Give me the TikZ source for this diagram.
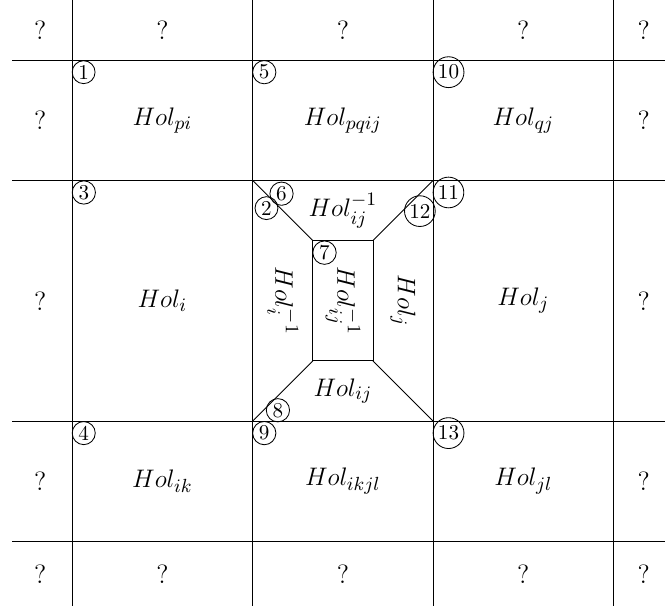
\documentclass[tikz,border=0pt]{standalone}
\usepackage{amsmath,amssymb}
\usepackage{tikz}
\usetikzlibrary{positioning}

\begin{document}
\begin{tikzpicture}[
    lbl/.style={font=\fontsize{12.5}{15}\selectfont},
    vlbl/.style={lbl, rotate=-90},
    num/.style={circle, draw, inner sep=0.9pt, outer sep=0pt, font=\normalsize},
    numw/.style={num, anchor=west}
]
\useasboundingbox (-1.2,1.0) rectangle (9.855,-9.14);

% grid lines
\draw (0,1) -- (0,-9.08);
\draw (3,1) -- (3,-9.08);
\draw (6,1) -- (6,-9.08);
\draw (9,1) -- (9,-9.08);
\draw (-1,0) -- (9.86,0);
\draw (-1,-2) -- (9.86,-2);
\draw (-1,-6) -- (9.86,-6);
\draw (-1,-8) -- (9.86,-8);

% centre cell with inner box
\coordinate (mnw) at (3,-2);
\coordinate (mne) at (6,-2);
\coordinate (msw) at (3,-6);
\coordinate (mse) at (6,-6);
\coordinate (inw) at (4,-3);
\coordinate (ine) at (5,-3);
\coordinate (isw) at (4,-5);
\coordinate (ise) at (5,-5);
\draw (inw) rectangle (ise);
\draw (mnw) -- (inw);
\draw (mne) -- (ine);
\draw (msw) -- (isw);
\draw (mse) -- (ise);

% unknown border cells
\node[lbl] (q1) at (-0.53,0.5) {?};
\node[lbl] (q2) at (1.5,0.5) {?};
\node[lbl] (q3) at (4.5,0.5) {?};
\node[lbl] (q4) at (7.5,0.5) {?};
\node[lbl] (q5) at (9.5,0.5) {?};
\node[lbl] (q6) at (-0.53,-1) {?};
\node[lbl] (q7) at (9.5,-1) {?};
\node[lbl] (q8) at (-0.53,-4) {?};
\node[lbl] (q9) at (9.5,-4) {?};
\node[lbl] (q10) at (-0.53,-7) {?};
\node[lbl] (q11) at (9.5,-7) {?};
\node[lbl] (q12) at (-0.53,-8.55) {?};
\node[lbl] (q13) at (1.5,-8.55) {?};
\node[lbl] (q14) at (4.5,-8.55) {?};
\node[lbl] (q15) at (7.5,-8.55) {?};
\node[lbl] (q16) at (9.5,-8.55) {?};

% holonomies
\node[lbl] (hpi) at (1.5,-1) {$Hol_{pi}$};
\node[lbl] (hpqij) at (4.5,-1) {$Hol_{pqij}$};
\node[lbl] (hqj) at (7.5,-1) {$Hol_{qj}$};
\node[lbl] (hi) at (1.5,-4) {$Hol_{i}$};
\node[lbl] (hj) at (7.5,-4) {$Hol_{j}$};
\node[lbl] (hik) at (1.5,-7) {$Hol_{ik}$};
\node[lbl] (hikjl) at (4.5,-7) {$Hol_{ikjl}$};
\node[lbl] (hjl) at (7.5,-7) {$Hol_{jl}$};
\node[lbl] (hijinv) at (4.5,-2.5) {$Hol_{ij}^{-1}$};
\node[lbl] (hij) at (4.5,-5.5) {$Hol_{ij}$};
\node[vlbl] (hiinv) at (3.5,-4) {$Hol_{i}^{-1}$};
\node[vlbl] (hijinvv) at (4.5,-4) {$Hol_{ij}^{-1}$};
\node[vlbl] (hjv) at (5.5,-4) {$Hol_{j}$};

% vertex numbers
\node[numw] (c1) at (0,-0.2) {1};
\node[numw] (c3) at (0,-2.2) {3};
\node[numw] (c4) at (0,-6.2) {4};
\node[numw] (c5) at (3,-0.2) {5};
\node[numw] (c9) at (3,-6.2) {9};
\node[numw] (c10) at (6,-0.2) {10};
\node[numw] (c11) at (6,-2.2) {11};
\node[numw] (c13) at (6,-6.2) {13};
\node[numw] (c7) at (4,-3.2) {7};
\node[num] (c2) at (3.23,-2.46) {2};
\node[num] (c6) at (3.48,-2.22) {6};
\node[num] (c12) at (5.78,-2.51) {12};
\node[num] (c8) at (3.42,-5.82) {8};

\end{tikzpicture}
\end{document}
